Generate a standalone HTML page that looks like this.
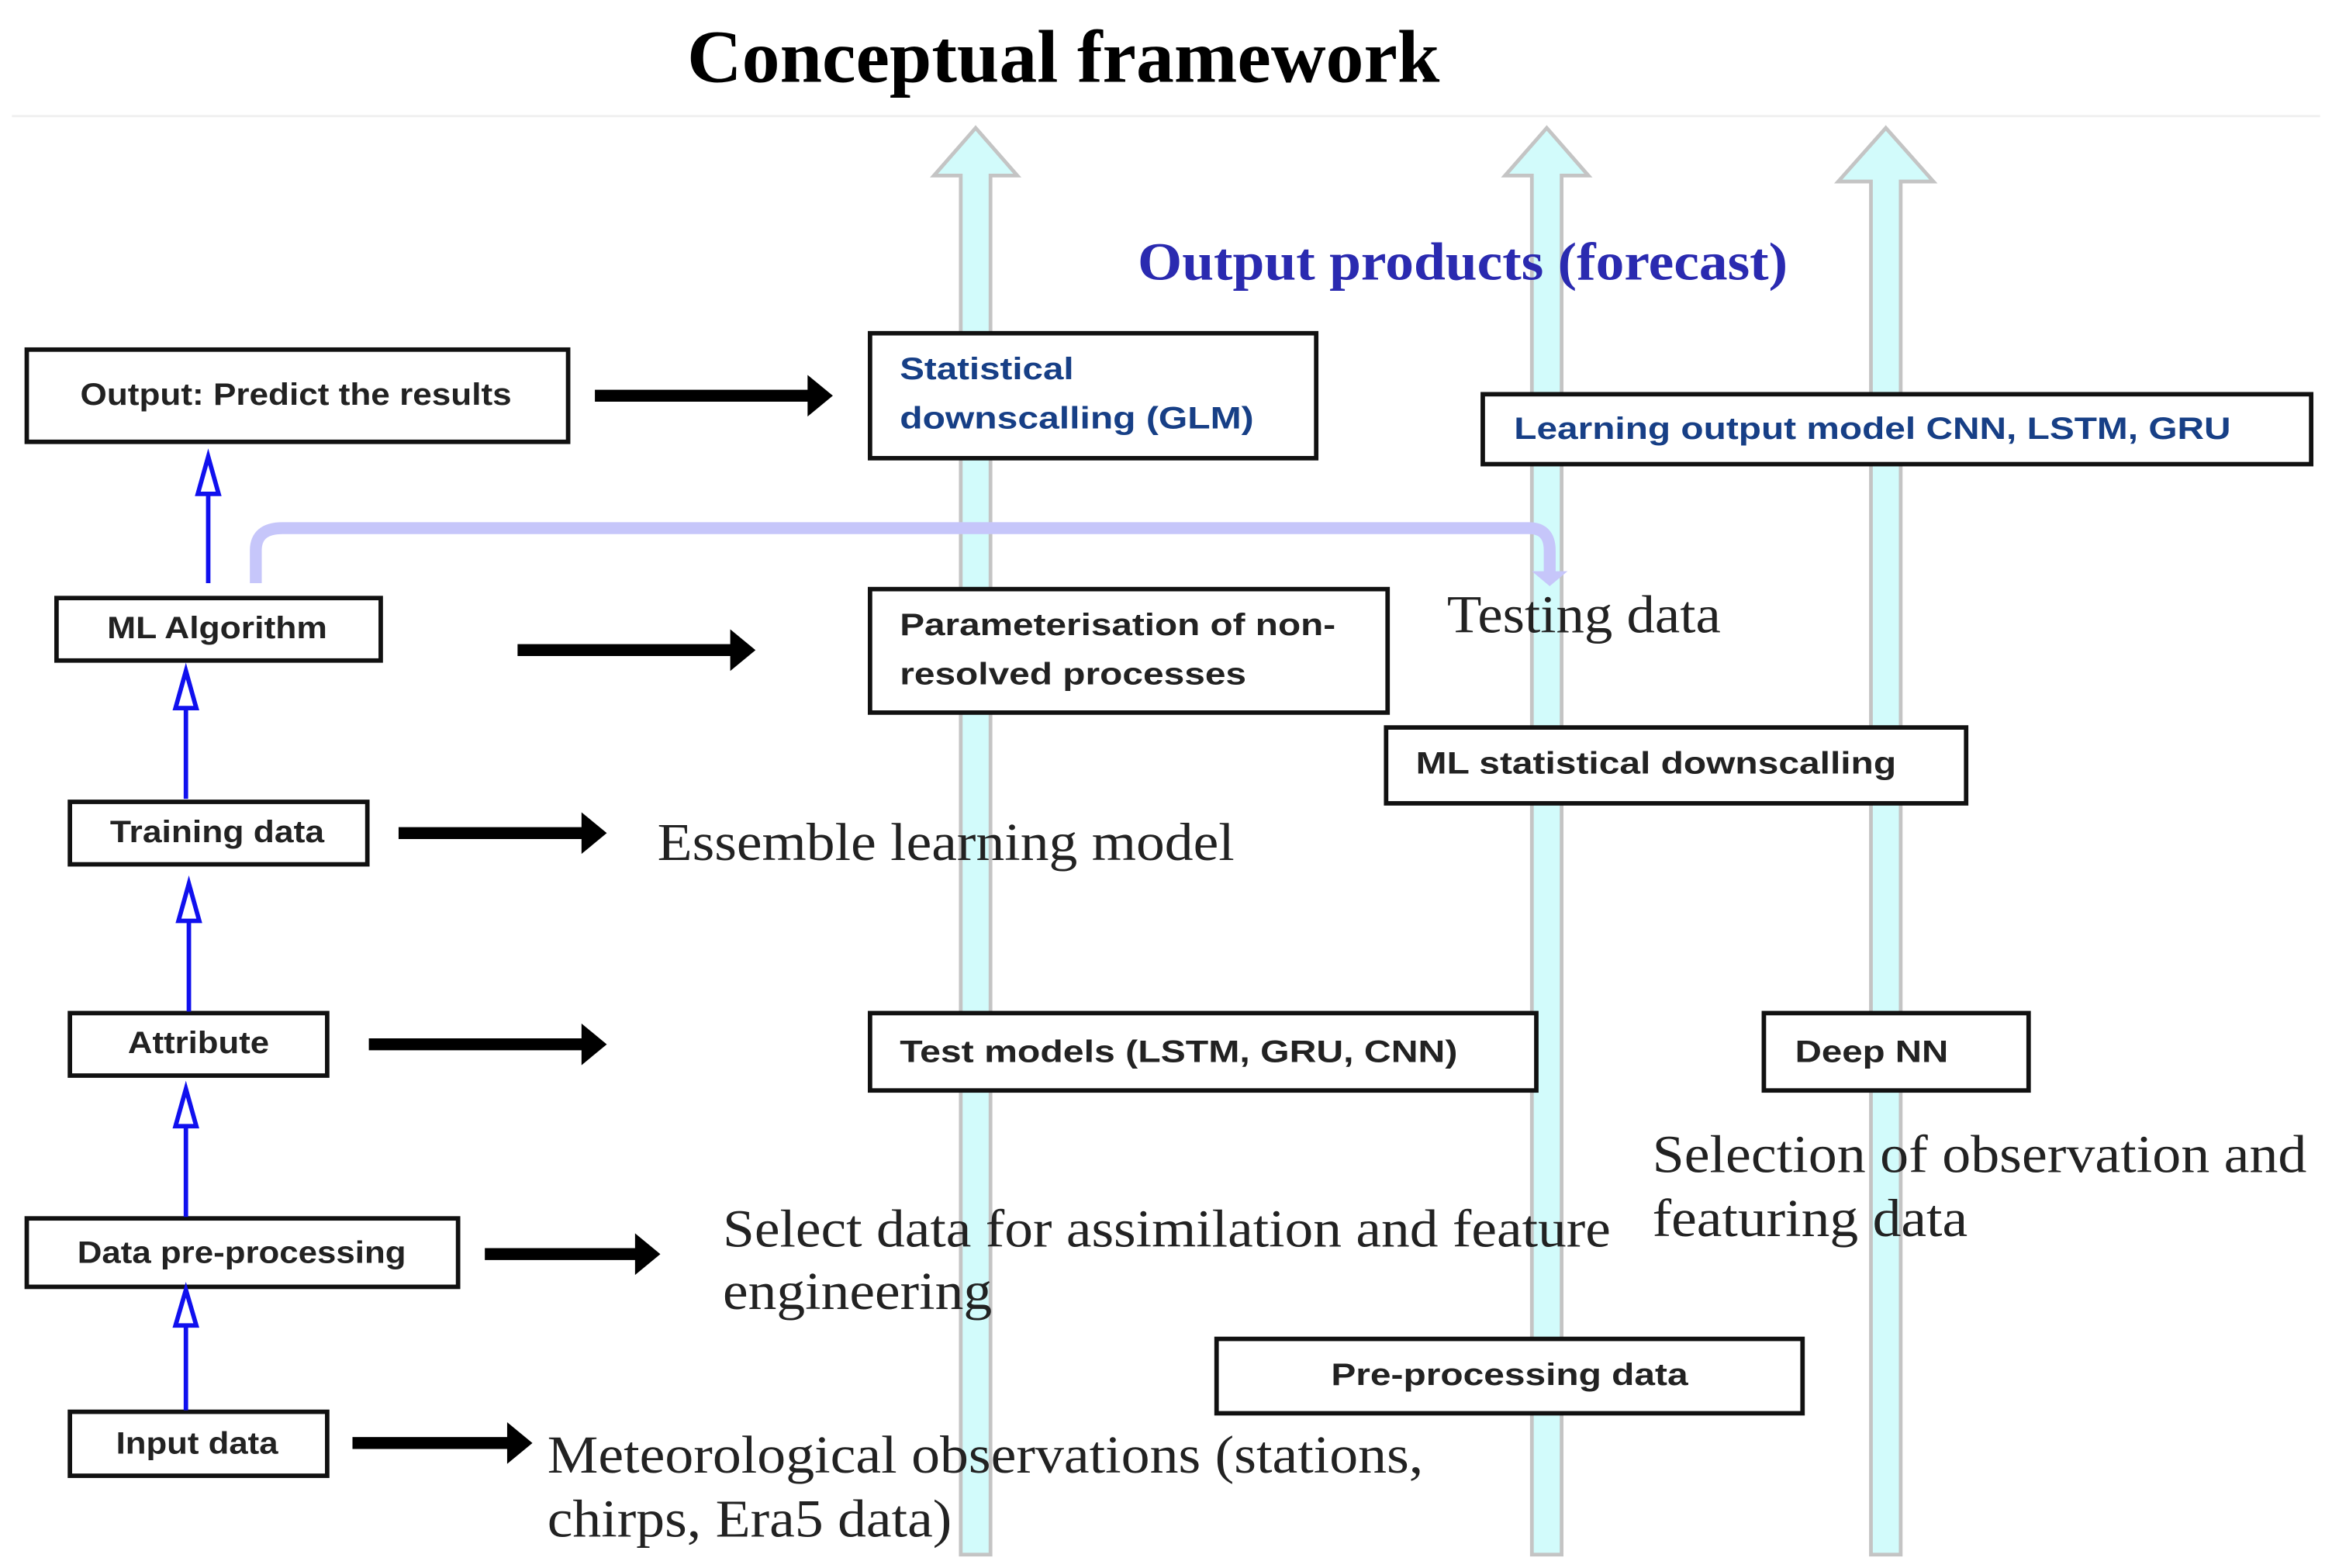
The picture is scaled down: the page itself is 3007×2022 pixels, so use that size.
<!DOCTYPE html>
<html><head><meta charset="utf-8"><style>
html,body{margin:0;padding:0;background:#fff;}
svg{display:block;}
.bx{fill:#fff;stroke:#111;stroke-width:3;}
.st{font-family:"Liberation Sans",Arial,sans-serif;font-weight:bold;font-size:21px;fill:#222;}
.bl{fill:#173f86;}
.sr{font-family:"Liberation Serif","Times New Roman",serif;font-size:36px;fill:#222;}
</style></head><body>
<svg width="3007" height="2022" viewBox="0 0 1568 1054" preserveAspectRatio="none" xmlns="http://www.w3.org/2000/svg">
<rect width="1568" height="1054" fill="#fff"/>
<text x="462" y="55" textLength="506" lengthAdjust="spacingAndGlyphs" style="font-family:'Liberation Serif',serif;font-weight:bold;font-size:50px;fill:#000">Conceptual framework</text>
<line x1="8" y1="78" x2="1560" y2="78" stroke="#f0f0f0" stroke-width="1.5"/>

<!-- cyan arrows -->
<g fill="#d2fbfb" stroke="#c4c4c4" stroke-width="2.5">
<path d="M646,1045 L646,118 L628,118 L656,86 L684,118 L666,118 L666,1045 Z"/>
<path d="M1030,1045 L1030,118 L1012,118 L1040,86 L1068,118 L1050,118 L1050,1045 Z"/>
<path d="M1258,1045 L1258,122 L1236,122 L1268,86 L1300,122 L1278,122 L1278,1045 Z"/>
</g>

<!-- lavender connector -->
<path d="M172,392 L172,370 Q172,355 190,355 L1028,355 Q1042,355 1042,370 L1042,386" fill="none" stroke="#c6c6fa" stroke-width="8"/>
<path d="M1030,384 L1054,384 L1042,394 Z" fill="#c6c6fa"/>

<!-- boxes -->
<rect class="bx" x="18" y="235" width="364" height="62"/>
<text class="st" x="54" y="272" textLength="290" lengthAdjust="spacingAndGlyphs">Output: Predict the results</text>
<rect class="bx" x="38" y="402" width="218" height="42"/>
<text class="st" x="72" y="429" textLength="148" lengthAdjust="spacingAndGlyphs">ML Algorithm</text>
<rect class="bx" x="47" y="539" width="200" height="42"/>
<text class="st" x="74" y="566" textLength="144" lengthAdjust="spacingAndGlyphs">Training data</text>
<rect class="bx" x="47" y="681" width="173" height="42"/>
<text class="st" x="86" y="708" textLength="95" lengthAdjust="spacingAndGlyphs">Attribute</text>
<rect class="bx" x="18" y="819" width="290" height="46"/>
<text class="st" x="52" y="849" textLength="221" lengthAdjust="spacingAndGlyphs">Data pre-processing</text>
<rect class="bx" x="47" y="949" width="173" height="43"/>
<text class="st" x="78" y="977" textLength="109" lengthAdjust="spacingAndGlyphs">Input data</text>

<rect class="bx" x="585" y="224" width="300" height="84"/>
<text class="st bl" x="605" y="255" textLength="117" lengthAdjust="spacingAndGlyphs">Statistical</text>
<text class="st bl" x="605" y="288" textLength="238" lengthAdjust="spacingAndGlyphs">downscalling (GLM)</text>
<rect class="bx" x="997" y="265" width="557" height="47"/>
<text class="st bl" x="1018" y="295" textLength="482" lengthAdjust="spacingAndGlyphs">Learning output model CNN, LSTM, GRU</text>
<rect class="bx" x="585" y="396" width="348" height="83"/>
<text class="st" x="605" y="427" textLength="293" lengthAdjust="spacingAndGlyphs">Parameterisation of non-</text>
<text class="st" x="605" y="460" textLength="233" lengthAdjust="spacingAndGlyphs">resolved processes</text>
<rect class="bx" x="932" y="489" width="390" height="51"/>
<text class="st" x="952" y="520" textLength="323" lengthAdjust="spacingAndGlyphs">ML statistical downscalling</text>
<rect class="bx" x="585" y="681" width="448" height="52"/>
<text class="st" x="605" y="714" textLength="375" lengthAdjust="spacingAndGlyphs">Test models (LSTM, GRU, CNN)</text>
<rect class="bx" x="1186" y="681" width="178" height="52"/>
<text class="st" x="1207" y="714" textLength="103" lengthAdjust="spacingAndGlyphs">Deep NN</text>
<rect class="bx" x="818" y="900" width="394" height="50"/>
<text class="st" x="895" y="931" textLength="240" lengthAdjust="spacingAndGlyphs">Pre-processing data</text>

<!-- black arrows -->
<g fill="#000">
<path d="M400,262 L543,262 L543,252 L560,266 L543,280 L543,270 L400,270 Z"/>
<path d="M348,433 L491,433 L491,423 L508,437 L491,451 L491,441 L348,441 Z"/>
<path d="M268,556 L391,556 L391,546 L408,560 L391,574 L391,564 L268,564 Z"/>
<path d="M248,698 L391,698 L391,688 L408,702 L391,716 L391,706 L248,706 Z"/>
<path d="M326,839 L427,839 L427,829 L444,843 L427,857 L427,847 L326,847 Z"/>
<path d="M237,966 L341,966 L341,956 L358,970 L341,984 L341,974 L237,974 Z"/>
</g>

<!-- blue hollow up arrows -->
<g stroke="#1010ee" stroke-width="3" fill="#fff">
<line x1="140" y1="392" x2="140" y2="333"/><path d="M140,307 L147,332 L133,332 Z"/>
<line x1="125" y1="537" x2="125" y2="476"/><path d="M125,451 L132,476 L118,476 Z"/>
<line x1="127" y1="680" x2="127" y2="619"/><path d="M127,594 L134,619 L120,619 Z"/>
<line x1="125" y1="818" x2="125" y2="757"/><path d="M125,732 L132,757 L118,757 Z"/>
<line x1="125" y1="948" x2="125" y2="891"/><path d="M125,867 L132,891 L118,891 Z"/>
</g>

<!-- serif labels -->
<text x="765" y="188" textLength="437" lengthAdjust="spacingAndGlyphs" style="font-family:'Liberation Serif',serif;font-weight:bold;font-size:36px;fill:#2a2ab0">Output products (forecast)</text>
<text class="sr" x="973" y="425" textLength="184" lengthAdjust="spacingAndGlyphs">Testing data</text>
<text class="sr" x="442" y="578" textLength="388" lengthAdjust="spacingAndGlyphs">Essemble learning model</text>
<text class="sr" x="486" y="838" textLength="597" lengthAdjust="spacingAndGlyphs">Select data for assimilation and feature</text>
<text class="sr" x="486" y="880" textLength="181" lengthAdjust="spacingAndGlyphs">engineering</text>
<text class="sr" x="1111" y="788" textLength="440" lengthAdjust="spacingAndGlyphs">Selection of observation and</text>
<text class="sr" x="1111" y="831" textLength="212" lengthAdjust="spacingAndGlyphs">featuring data</text>
<text class="sr" x="368" y="990" textLength="589" lengthAdjust="spacingAndGlyphs">Meteorological observations (stations,</text>
<text class="sr" x="368" y="1033" textLength="272" lengthAdjust="spacingAndGlyphs">chirps, Era5 data)</text>
</svg>
</body></html>
